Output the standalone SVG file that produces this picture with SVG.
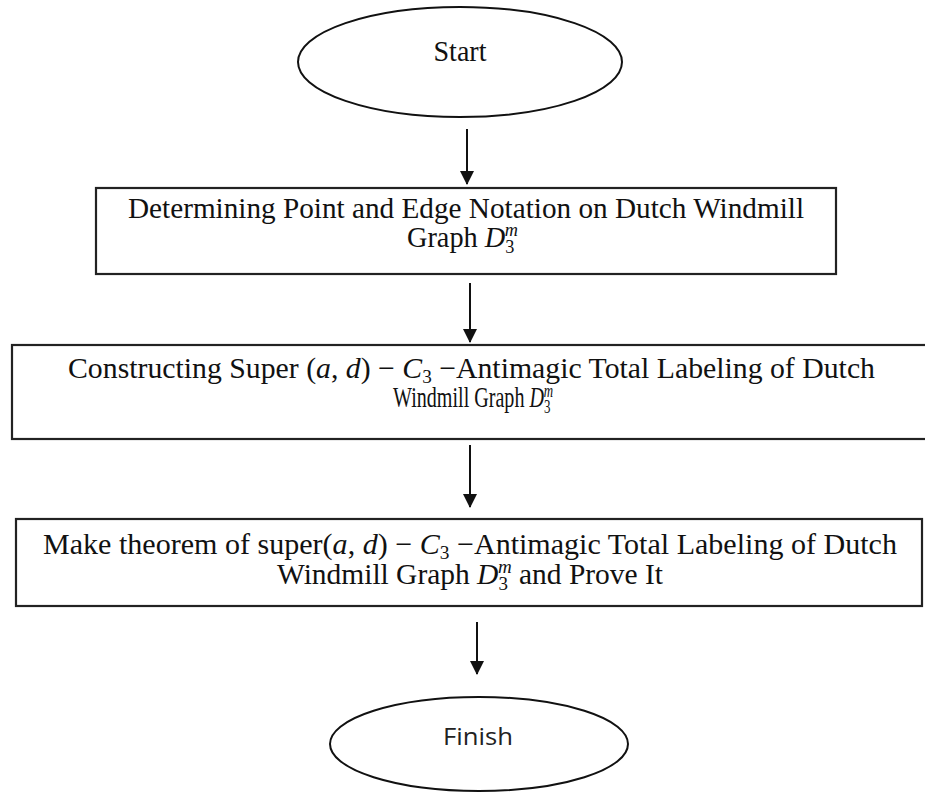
<svg xmlns="http://www.w3.org/2000/svg" width="925" height="792" viewBox="0 0 925 792">
<style>
.shape{fill:#fff;stroke:#111;stroke-width:2}
.box{fill:#fff;stroke:#222;stroke-width:2.2}
.t{font-family:"Liberation Serif","Times New Roman",serif;font-size:29.5px;fill:#111}
.i{font-style:italic}
.s{font-size:19px}
.f{font-family:"Open Sans","Noto Sans",sans-serif;font-size:23px;fill:#222}
.conn line{stroke:#111;stroke-width:2}
</style>
<defs>
<marker id="ah" markerUnits="userSpaceOnUse" markerWidth="14" markerHeight="15" refX="13" refY="7" orient="auto">
<path d="M0,0 L14,7 L0,14 z" fill="#111"/>
</marker>
</defs>
<g id="connectors" class="conn">
<line x1="467" y1="129" x2="467" y2="184" marker-end="url(#ah)"/>
<line x1="470" y1="283" x2="470" y2="342" marker-end="url(#ah)"/>
<line x1="470" y1="445" x2="470" y2="507" marker-end="url(#ah)"/>
<line x1="477" y1="622" x2="477" y2="674" marker-end="url(#ah)"/>
</g>
<g id="start">
<ellipse class="shape" cx="460" cy="62" rx="162" ry="55"/>
<text class="t" x="460" y="61" text-anchor="middle" font-size="28" textLength="53" lengthAdjust="spacingAndGlyphs">Start</text>
</g>
<g id="step1">
<rect class="box" x="96" y="188" width="740" height="86"/>
<text class="t" x="128" y="218" textLength="676" lengthAdjust="spacingAndGlyphs">Determining Point and Edge Notation on Dutch Windmill</text>
<text class="t" x="407" y="247" textLength="111" lengthAdjust="spacingAndGlyphs">Graph <tspan class="i">D</tspan><tspan class="s" dy="6">3</tspan><tspan class="s i" dx="-10" dy="-17">m</tspan></text>
</g>
<g id="step2">
<rect class="box" x="12" y="345" width="930" height="94"/>
<text class="t" x="68" y="378" textLength="807" lengthAdjust="spacingAndGlyphs">Constructing Super (<tspan class="i">a</tspan>, <tspan class="i">d</tspan>) − <tspan class="i">C</tspan><tspan class="s" dy="5">3</tspan><tspan dy="-5"> −Antimagic Total Labeling of Dutch</tspan></text>
<text class="t" x="393" y="407" font-size="26" textLength="160" lengthAdjust="spacingAndGlyphs">Windmill  Graph <tspan class="i">D</tspan><tspan class="s" dy="6">3</tspan><tspan class="s i" dx="-10" dy="-16">m</tspan></text>
</g>
<g id="step3">
<rect class="box" x="16" y="519" width="906" height="87"/>
<text class="t" x="43" y="554" textLength="854" lengthAdjust="spacingAndGlyphs">Make theorem of  super(<tspan class="i">a</tspan>, <tspan class="i">d</tspan>) − <tspan class="i">C</tspan><tspan class="s" dy="5">3</tspan><tspan dy="-5"> −Antimagic Total Labeling of Dutch</tspan></text>
<text class="t" x="277" y="584" textLength="386" lengthAdjust="spacingAndGlyphs">Windmill  Graph <tspan class="i">D</tspan><tspan class="s" dy="6">3</tspan><tspan class="s i" dx="-10" dy="-17">m</tspan><tspan dy="11"> and Prove It</tspan></text>
</g>
<g id="finish">
<ellipse class="shape" cx="479" cy="744" rx="149" ry="47"/>
<text class="f" x="478" y="745" text-anchor="middle" textLength="70" lengthAdjust="spacingAndGlyphs">Finish</text>
</g>
</svg>
